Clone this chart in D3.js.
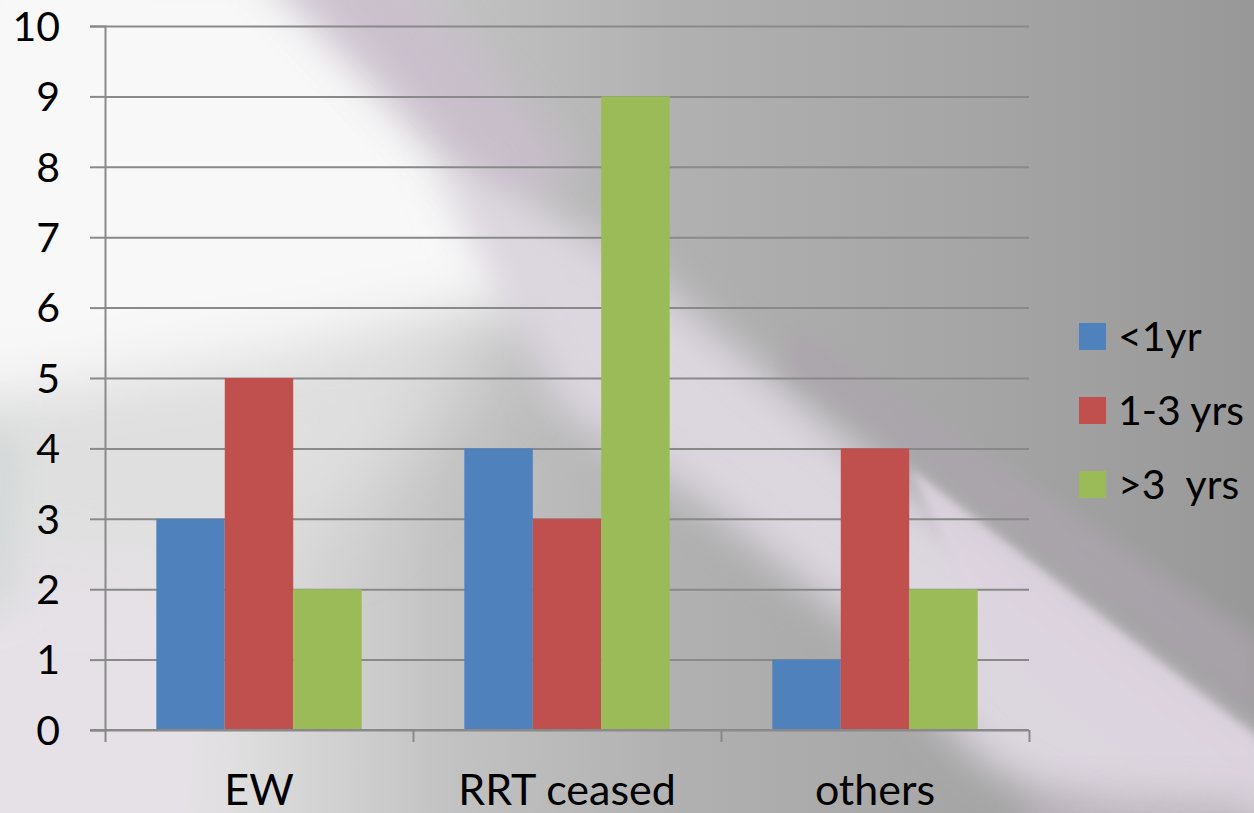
<!DOCTYPE html>
<html>
<head>
<meta charset="utf-8">
<script src="https://cdn.jsdelivr.net/npm/d3@7"></script>
<style>
  html, body { margin: 0; padding: 0; background: #c0c0c0; }
  svg { display: block; }
  text { font-family: Lato, "Open Sans", sans-serif; fill: #000; }
</style>
</head>
<body>
<svg id="chart" width="1254" height="813"></svg>
<script>
// ---- data ----
const categories = ["EW", "RRT ceased", "others"];
const seriesNames = ["<1yr", "1-3 yrs", ">3  yrs"];
const lessThan1yr = [3, 4, 1];
const oneToThreeYrs = [5, 3, 4];
const moreThan3yrs = [2, 9, 2];
const yTicks = [0, 1, 2, 3, 4, 5, 6, 7, 8, 9, 10];
const seriesColors = ["#4F81BD", "#C0504D", "#9BBB59"];

const seriesValues = [lessThan1yr, oneToThreeYrs, moreThan3yrs];

const W = 1254, H = 813;
const svg = d3.select("#chart");
const defs = svg.append("defs");

// ---- background (decorative) ----
const base = defs.append("linearGradient").attr("id", "bgBase")
  .attr("gradientUnits", "userSpaceOnUse")
  .attr("x1", 0).attr("y1", 0).attr("x2", W).attr("y2", 0);
[[0, "#ececec"], [0.2, "#dcdcdc"], [0.36, "#c2c2c2"], [0.55, "#b0b0b0"], [0.8, "#a4a4a4"], [1, "#989898"]]
  .forEach(([o, c]) => base.append("stop").attr("offset", o).attr("stop-color", c));

function blurFilter(id, sd) {
  const f = defs.append("filter").attr("id", id)
    .attr("x", "-50%").attr("y", "-50%").attr("width", "200%").attr("height", "200%");
  f.append("feGaussianBlur").attr("stdDeviation", sd);
}
blurFilter("b40", 40);
blurFilter("b30", 30);
blurFilter("b20", 20);
blurFilter("b10", 10);
blurFilter("b4", 4);

const bg = svg.append("g").attr("class", "background");
bg.append("rect").attr("width", W).attr("height", H).attr("fill", "url(#bgBase)");
// lower-left light lilac
bg.append("polygon").attr("points", "-60,520 140,520 220,700 200,900 -60,900")
  .attr("fill", "#e6e1e7").attr("filter", "url(#b30)");
// middle-left light gray
bg.append("polygon").attr("points", "-60,360 520,330 330,520 120,560 -60,560")
  .attr("fill", "#dfdfdf").attr("filter", "url(#b40)");
// upper-left white area
bg.append("polygon").attr("points", "-60,-60 270,-60 390,70 480,180 560,300 300,350 -60,400")
  .attr("fill", "#f8f8f8").attr("filter", "url(#b30)");
// top lilac tint along the edge
bg.append("polygon").attr("points", "250,-40 390,-40 580,170 500,210")
  .attr("fill", "#c9bdcc").attr("opacity", 0.85).attr("filter", "url(#b20)");
// light diagonal streak
bg.append("polygon").attr("points", "440,170 610,245 880,470 1300,770 1300,840 1100,830 980,760 850,620 700,500 560,410")
  .attr("fill", "#dcd6df").attr("filter", "url(#b20)");
// bright area below the sharp edge, lower right
bg.append("polygon").attr("points", "910,468 1260,740 1260,785 1120,750 990,640")
  .attr("fill", "#ddd4df").attr("opacity", 0.9).attr("filter", "url(#b4)");
// gray-lilac above the sharp edge
bg.append("polygon").attr("points", "800,330 1260,640 1260,715 905,450 780,370")
  .attr("fill", "#aca4ad").attr("opacity", 0.75).attr("filter", "url(#b10)");
// darker lilac-gray lower right corner
bg.append("polygon").attr("points", "1040,790 1260,800 1260,860 1020,860")
  .attr("fill", "#bdb4be").attr("opacity", 0.8).attr("filter", "url(#b20)");
// left edge gray tint
bg.append("polygon").attr("points", "-40,420 18,430 18,600 -40,620")
  .attr("fill", "#cfd5d5").attr("opacity", 0.7).attr("filter", "url(#b20)");

// ---- scales ----
const plot = { left: 105, right: 1029, top: 26, bottom: 730 };
const y = d3.scaleLinear().domain([0, 10]).range([plot.bottom, plot.top]);
const x0 = d3.scaleBand().domain(categories).range([plot.left, plot.right])
  .paddingInner(0).paddingOuter(0);
const x1 = d3.scaleBand().domain(seriesNames).range([0, x0.bandwidth()])
  .paddingInner(0).paddingOuter(0.75);
const xEdges = d3.scaleLinear().domain([0, categories.length]).range([plot.left, plot.right]);

const gridColor = "#898989";

// gridlines
svg.append("g").attr("transform", `translate(${plot.left},0)`)
  .call(d3.axisLeft(y).tickValues(yTicks).tickSize(-(plot.right - plot.left)).tickFormat(""))
  .call(g => g.select(".domain").remove())
  .call(g => g.selectAll("line").attr("stroke", gridColor).attr("stroke-width", 2));

// y axis with outward ticks and labels
svg.append("g").attr("transform", `translate(${plot.left},0)`)
  .call(d3.axisLeft(y).tickValues(yTicks).tickSize(15).tickPadding(30).tickFormat(d3.format("d")))
  .call(g => g.select(".domain").attr("stroke", gridColor).attr("stroke-width", 2))
  .call(g => g.selectAll("line").attr("stroke", gridColor).attr("stroke-width", 2))
  .call(g => g.selectAll("text").attr("font-size", 41).attr("font-family", "Lato")
      .attr("fill", "#000").attr("dy", "0.35em"));

// bars
const groups = svg.append("g").selectAll("g").data(categories).join("g")
  .attr("transform", d => `translate(${x0(d)},0)`);
groups.selectAll("rect")
  .data((c, ci) => seriesNames.map((s, si) => ({ s, si, v: seriesValues[si][ci] })))
  .join("rect")
  .attr("x", d => x1(d.s))
  .attr("width", x1.bandwidth())
  .attr("y", d => y(d.v))
  .attr("height", d => y(0) - y(d.v))
  .attr("fill", d => seriesColors[d.si]);

// x axis line + boundary ticks
svg.append("g").attr("transform", `translate(0,${plot.bottom})`)
  .call(d3.axisBottom(xEdges).tickValues(d3.range(categories.length + 1)).tickSize(12).tickFormat(""))
  .call(g => g.select(".domain").remove())
  .call(g => g.selectAll("line").attr("stroke", gridColor).attr("stroke-width", 2));
svg.append("line")
  .attr("x1", plot.left - 15).attr("x2", plot.right)
  .attr("y1", y(0)).attr("y2", y(0))
  .attr("stroke", gridColor).attr("stroke-width", 2);

// category labels
svg.append("g").attr("transform", `translate(0,${plot.bottom})`)
  .call(d3.axisBottom(x0).tickSize(0).tickPadding(0))
  .call(g => g.select(".domain").remove())
  .call(g => g.selectAll("text").attr("font-size", 43).attr("font-family", "Lato")
      .attr("fill", "#000").attr("dy", null).attr("y", 75));

// legend
const legend = svg.append("g").attr("transform", "translate(1079,323)");
const li = legend.selectAll("g").data(seriesNames).join("g")
  .attr("transform", (d, i) => `translate(0,${i * 74})`);
li.append("rect").attr("width", 27).attr("height", 27).attr("fill", (d, i) => seriesColors[i]);
li.append("text").attr("x", 39).attr("y", 28).attr("font-size", 41)
  .style("white-space", "pre").attr("xml:space", "preserve").text(d => d);
</script>
</body>
</html>
